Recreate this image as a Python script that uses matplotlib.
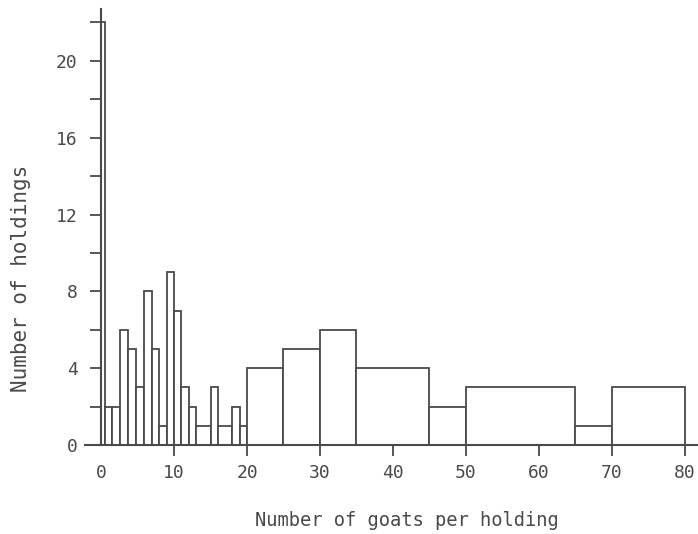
import matplotlib.pyplot as plt
import numpy as np

# bin edges (goats per holding) and number of holdings in each bin
edges = [0, 0.55, 1.5, 2.6, 3.7, 4.8, 5.9, 7, 8, 9, 10, 11, 12, 13,
         15, 16, 18, 19, 20, 25, 30, 35, 45, 50, 65, 70, 80]
counts = [22, 2, 2, 6, 5, 3, 8, 5, 1, 9, 7, 3, 2,
          1, 3, 1, 2, 1, 4, 5, 6, 4, 2, 3, 1, 3]

xticks = [0, 10, 20, 30, 40, 50, 60, 70, 80]
yticks = [0, 4, 8, 12, 16, 20]

ink = '#4a4a4a'
font = 'DejaVu Sans Mono'

fig = plt.figure(figsize=(6.98, 5.34), dpi=100)
ax = fig.add_axes([85 / 698, 1 - 445 / 534, 1 - 85 / 698, 436 / 534])

left = np.array(edges[:-1])
widths = np.diff(edges)
ax.bar(left, counts, width=widths, align='edge', facecolor='white',
       edgecolor=ink, linewidth=1.3)

ax.set_xlim(-2.2, 81.8)
ax.set_ylim(0, 22.7)

for s in ['top', 'right']:
    ax.spines[s].set_visible(False)
ax.spines['left'].set_position(('data', 0))
ax.spines['left'].set_color(ink)
ax.spines['bottom'].set_color(ink)
ax.spines['left'].set_linewidth(1.5)
ax.spines['bottom'].set_linewidth(1.5)

ax.set_xticks(xticks)
ax.set_xticklabels([str(v) for v in xticks])
ax.set_yticks(range(0, 23, 2))
ax.set_yticklabels([str(v) if v in yticks else '' for v in range(0, 23, 2)])
ax.tick_params(axis='both', colors=ink, direction='out', length=8, width=1.3,
               labelsize=13)
ax.tick_params(axis='y', pad=9)
ax.tick_params(axis='x', pad=6)
ax.xaxis.get_major_ticks()[0].tick1line.set_visible(False)
for lab in ax.get_xticklabels() + ax.get_yticklabels():
    lab.set_family(font)
    lab.set_color(ink)

fig.text(407 / 698, 1 - 520 / 534, 'Number of goats per holding', family=font,
         fontsize=13.5, color=ink, ha='center', va='center')
fig.text(21 / 698, 1 - 278 / 534, 'Number of holdings', family=font,
         fontsize=15, color=ink, ha='center', va='center', rotation=90)

fig.savefig('out.png', dpi=100, facecolor='white')
